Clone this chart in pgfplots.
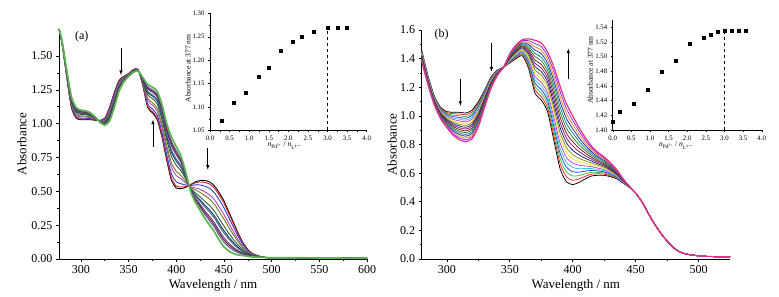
\documentclass[border=0pt]{standalone}
\usepackage{pgfplots}
\pgfplotsset{compat=1.18}
\usepackage{pgfplotstable}
\usepackage{fontspec}
\setmainfont{Liberation Serif}

% panel (a): c0 = initial (black) ... c11 = final (green)
\pgfplotstableread{
x c0 c1 c2 c3 c4 c5 c6 c7 c8 c9 c10 c11
277 1.70 1.70 1.70 1.70 1.70 1.70 1.70 1.70 1.70 1.70 1.70 1.70
280 1.60 1.601 1.603 1.606 1.608 1.611 1.613 1.614 1.616 1.617 1.618 1.62
285 1.35 1.353 1.358 1.365 1.37 1.378 1.383 1.385 1.39 1.393 1.395 1.40
290 1.12 1.124 1.132 1.144 1.152 1.164 1.172 1.176 1.184 1.188 1.192 1.20
295 1.04 1.044 1.052 1.064 1.072 1.084 1.092 1.096 1.104 1.108 1.112 1.12
300 1.03 1.034 1.041 1.051 1.058 1.069 1.076 1.079 1.086 1.090 1.093 1.10
305 1.03 1.033 1.040 1.050 1.056 1.066 1.072 1.076 1.082 1.085 1.089 1.095
310 1.03 1.033 1.038 1.045 1.05 1.058 1.063 1.065 1.07 1.073 1.075 1.08
315 1.025 1.026 1.029 1.033 1.035 1.039 1.041 1.043 1.045 1.046 1.048 1.05
320 1.025 1.024 1.023 1.021 1.019 1.017 1.015 1.015 1.013 1.012 1.012 1.01
325 1.04 1.038 1.033 1.025 1.02 1.013 1.008 1.005 1.00 0.998 0.995 0.99
330 1.12 1.115 1.105 1.09 1.08 1.065 1.055 1.05 1.04 1.035 1.03 1.02
335 1.23 1.225 1.214 1.197 1.186 1.170 1.159 1.153 1.142 1.137 1.131 1.12
340 1.32 1.316 1.308 1.296 1.288 1.276 1.268 1.264 1.256 1.252 1.248 1.24
345 1.35 1.348 1.344 1.338 1.334 1.328 1.324 1.322 1.318 1.316 1.314 1.31
350 1.37 1.369 1.367 1.364 1.362 1.359 1.357 1.356 1.354 1.353 1.352 1.35
355 1.40 1.399 1.397 1.394 1.392 1.389 1.387 1.386 1.384 1.383 1.382 1.38
360 1.40 1.40 1.399 1.397 1.396 1.395 1.394 1.393 1.392 1.392 1.391 1.39
365 1.28 1.283 1.289 1.298 1.304 1.313 1.319 1.322 1.328 1.331 1.334 1.34
370 1.12 1.129 1.146 1.171 1.188 1.214 1.231 1.239 1.256 1.265 1.273 1.29
375 1.08 1.090 1.109 1.137 1.156 1.185 1.204 1.213 1.232 1.242 1.251 1.27
380 1.03 1.041 1.062 1.093 1.114 1.146 1.167 1.177 1.198 1.209 1.219 1.24
385 0.90 0.912 0.936 0.972 0.996 1.032 1.056 1.068 1.092 1.104 1.116 1.14
390 0.73 0.744 0.771 0.811 0.838 0.879 0.906 0.919 0.946 0.960 0.973 1.00
395 0.58 0.596 0.628 0.676 0.708 0.756 0.788 0.804 0.836 0.852 0.868 0.90
400 0.525 0.540 0.571 0.617 0.647 0.693 0.723 0.739 0.769 0.784 0.800 0.83
405 0.52 0.532 0.556 0.592 0.616 0.652 0.676 0.688 0.712 0.724 0.736 0.76
410 0.53 0.536 0.547 0.563 0.574 0.591 0.602 0.607 0.618 0.624 0.629 0.64
415 0.55 0.548 0.543 0.535 0.53 0.523 0.518 0.515 0.51 0.508 0.505 0.50
420 0.57 0.563 0.548 0.525 0.51 0.488 0.473 0.465 0.45 0.443 0.435 0.42
425 0.58 0.569 0.547 0.514 0.492 0.459 0.437 0.426 0.404 0.393 0.382 0.36
430 0.58 0.566 0.538 0.496 0.468 0.426 0.398 0.384 0.356 0.342 0.328 0.30
435 0.57 0.554 0.522 0.474 0.442 0.394 0.362 0.346 0.314 0.298 0.282 0.25
440 0.54 0.523 0.489 0.438 0.404 0.353 0.319 0.302 0.268 0.251 0.234 0.20
445 0.49 0.473 0.438 0.385 0.35 0.298 0.263 0.245 0.21 0.193 0.175 0.14
450 0.43 0.413 0.379 0.328 0.294 0.243 0.209 0.192 0.158 0.141 0.124 0.09
455 0.35 0.336 0.307 0.263 0.234 0.191 0.162 0.147 0.118 0.104 0.089 0.06
460 0.27 0.259 0.236 0.201 0.178 0.144 0.121 0.109 0.086 0.075 0.063 0.04
465 0.19 0.182 0.166 0.142 0.126 0.102 0.086 0.078 0.062 0.054 0.046 0.03
470 0.12 0.115 0.106 0.092 0.082 0.068 0.058 0.054 0.044 0.039 0.035 0.025
475 0.07 0.068 0.063 0.055 0.05 0.043 0.038 0.035 0.03 0.028 0.025 0.02
480 0.04 0.039 0.036 0.033 0.03 0.026 0.024 0.023 0.02 0.019 0.018 0.015
490 0.015 0.015 0.015 0.014 0.014 0.013 0.013 0.013 0.013 0.012 0.012 0.012
500 0.01 0.01 0.01 0.01 0.01 0.01 0.01 0.01 0.01 0.01 0.01 0.01
550 0.008 0.008 0.008 0.008 0.008 0.008 0.008 0.008 0.008 0.008 0.008 0.008
600 0.005 0.005 0.005 0.005 0.005 0.005 0.005 0.005 0.005 0.005 0.005 0.005
}\specA

% panel (b): c0 = initial (black) ... c16 = final (pink)
\pgfplotstableread{
x c0 c1 c2 c3 c4 c5 c6 c7 c8 c9 c10 c11 c12 c13 c14 c15 c16
280 1.46 1.455 1.45 1.445 1.44 1.435 1.43 1.425 1.42 1.415 1.41 1.405 1.40 1.395 1.39 1.385 1.38
285 1.28 1.276 1.272 1.268 1.264 1.26 1.256 1.252 1.248 1.244 1.24 1.236 1.232 1.228 1.224 1.22 1.216
290 1.14 1.136 1.132 1.128 1.124 1.12 1.116 1.112 1.108 1.104 1.10 1.096 1.092 1.088 1.084 1.08 1.076
295 1.06 1.055 1.05 1.045 1.04 1.035 1.03 1.025 1.02 1.015 1.01 1.005 1.00 0.995 0.99 0.985 0.98
300 1.03 1.023 1.016 1.009 1.002 0.995 0.988 0.981 0.974 0.967 0.96 0.953 0.946 0.939 0.932 0.925 0.918
305 1.025 1.015 1.005 0.995 0.985 0.975 0.965 0.955 0.945 0.935 0.925 0.915 0.905 0.895 0.885 0.875 0.865
310 1.025 1.013 1.001 0.989 0.977 0.965 0.953 0.941 0.929 0.917 0.905 0.893 0.881 0.869 0.857 0.845 0.833
315 1.02 1.008 0.995 0.983 0.97 0.958 0.945 0.933 0.92 0.908 0.895 0.883 0.87 0.858 0.845 0.833 0.82
320 1.04 1.028 1.015 1.003 0.99 0.978 0.965 0.953 0.94 0.928 0.915 0.903 0.89 0.878 0.865 0.853 0.84
325 1.10 1.089 1.078 1.067 1.056 1.045 1.034 1.023 1.012 1.001 0.99 0.979 0.968 0.957 0.946 0.935 0.924
330 1.18 1.173 1.165 1.158 1.15 1.143 1.135 1.128 1.12 1.113 1.105 1.098 1.09 1.083 1.075 1.068 1.06
335 1.27 1.265 1.26 1.255 1.25 1.245 1.24 1.235 1.23 1.225 1.22 1.215 1.21 1.205 1.20 1.195 1.19
340 1.32 1.318 1.315 1.313 1.31 1.308 1.305 1.303 1.30 1.298 1.295 1.293 1.29 1.288 1.285 1.283 1.28
345 1.34 1.34 1.34 1.34 1.34 1.34 1.34 1.34 1.34 1.34 1.34 1.34 1.34 1.34 1.34 1.34 1.34
350 1.37 1.374 1.378 1.382 1.386 1.39 1.394 1.398 1.402 1.406 1.41 1.414 1.418 1.422 1.426 1.43 1.434
355 1.40 1.406 1.412 1.418 1.424 1.43 1.436 1.442 1.448 1.454 1.46 1.466 1.472 1.478 1.484 1.49 1.496
360 1.42 1.427 1.434 1.441 1.448 1.455 1.462 1.469 1.476 1.483 1.49 1.497 1.504 1.511 1.518 1.525 1.532
365 1.33 1.343 1.356 1.369 1.382 1.395 1.408 1.421 1.434 1.447 1.46 1.473 1.486 1.499 1.512 1.525 1.538
370 1.16 1.183 1.206 1.229 1.252 1.275 1.298 1.321 1.344 1.367 1.39 1.413 1.436 1.459 1.482 1.505 1.528
375 1.11 1.135 1.16 1.185 1.21 1.235 1.26 1.285 1.31 1.335 1.36 1.385 1.41 1.435 1.46 1.485 1.51
380 1.03 1.056 1.082 1.108 1.134 1.16 1.186 1.212 1.238 1.264 1.29 1.316 1.342 1.368 1.394 1.42 1.446
385 0.83 0.862 0.894 0.926 0.958 0.99 1.022 1.054 1.086 1.118 1.15 1.182 1.214 1.246 1.278 1.31 1.342
390 0.63 0.666 0.702 0.738 0.774 0.81 0.846 0.882 0.918 0.954 0.99 1.026 1.062 1.098 1.134 1.17 1.206
395 0.54 0.574 0.608 0.642 0.676 0.71 0.744 0.778 0.812 0.846 0.88 0.914 0.948 0.982 1.016 1.05 1.084
400 0.52 0.55 0.58 0.61 0.64 0.67 0.70 0.73 0.76 0.79 0.82 0.85 0.88 0.91 0.94 0.97 1.00
405 0.535 0.559 0.583 0.607 0.631 0.655 0.679 0.703 0.727 0.751 0.775 0.799 0.823 0.847 0.871 0.895 0.919
410 0.56 0.578 0.596 0.614 0.632 0.65 0.668 0.686 0.704 0.722 0.74 0.758 0.776 0.794 0.812 0.83 0.848
415 0.58 0.593 0.606 0.619 0.632 0.645 0.658 0.671 0.684 0.697 0.71 0.723 0.736 0.749 0.762 0.775 0.788
420 0.585 0.595 0.605 0.615 0.625 0.635 0.645 0.655 0.665 0.675 0.685 0.695 0.705 0.715 0.725 0.735 0.745
425 0.585 0.593 0.601 0.609 0.617 0.625 0.633 0.641 0.649 0.657 0.665 0.673 0.681 0.689 0.697 0.705 0.713
430 0.575 0.581 0.587 0.593 0.599 0.605 0.611 0.617 0.623 0.629 0.635 0.641 0.647 0.653 0.659 0.665 0.671
435 0.56 0.564 0.568 0.572 0.576 0.58 0.584 0.588 0.592 0.596 0.60 0.604 0.608 0.612 0.616 0.62 0.624
440 0.53 0.532 0.534 0.536 0.538 0.54 0.542 0.544 0.546 0.548 0.55 0.552 0.554 0.556 0.558 0.56 0.562
445 0.50 0.501 0.501 0.502 0.502 0.503 0.503 0.504 0.504 0.505 0.505 0.506 0.506 0.507 0.507 0.508 0.508
450 0.46 0.46 0.46 0.46 0.46 0.46 0.46 0.46 0.46 0.46 0.46 0.46 0.46 0.46 0.46 0.46 0.46
455 0.40 0.40 0.40 0.40 0.40 0.40 0.40 0.40 0.40 0.40 0.40 0.40 0.40 0.40 0.40 0.40 0.40
460 0.32 0.32 0.32 0.32 0.32 0.32 0.32 0.32 0.32 0.32 0.32 0.32 0.32 0.32 0.32 0.32 0.32
465 0.245 0.245 0.245 0.245 0.245 0.245 0.245 0.245 0.245 0.245 0.245 0.245 0.245 0.245 0.245 0.245 0.245
470 0.18 0.18 0.18 0.18 0.18 0.18 0.18 0.18 0.18 0.18 0.18 0.18 0.18 0.18 0.18 0.18 0.18
475 0.125 0.125 0.125 0.125 0.125 0.125 0.125 0.125 0.125 0.125 0.125 0.125 0.125 0.125 0.125 0.125 0.125
480 0.08 0.08 0.08 0.08 0.08 0.08 0.08 0.08 0.08 0.08 0.08 0.08 0.08 0.08 0.08 0.08 0.08
485 0.05 0.05 0.05 0.05 0.05 0.05 0.05 0.05 0.05 0.05 0.05 0.05 0.05 0.05 0.05 0.05 0.05
490 0.035 0.035 0.035 0.035 0.035 0.035 0.035 0.035 0.035 0.035 0.035 0.035 0.035 0.035 0.035 0.035 0.035
500 0.022 0.022 0.022 0.022 0.022 0.022 0.022 0.022 0.022 0.022 0.022 0.022 0.022 0.022 0.022 0.022 0.022
510 0.017 0.017 0.017 0.017 0.017 0.017 0.017 0.017 0.017 0.017 0.017 0.017 0.017 0.017 0.017 0.017 0.017
525 0.015 0.015 0.015 0.015 0.015 0.015 0.015 0.015 0.015 0.015 0.015 0.015 0.015 0.015 0.015 0.015 0.015
}\specB

\pgfplotstableread{
r A
0.3 1.07
0.6 1.11
0.9 1.13
1.25 1.165
1.5 1.185
1.8 1.22
2.1 1.24
2.35 1.25
2.65 1.26
3.0 1.27
3.25 1.27
3.5 1.27
}\insetA

\pgfplotstableread{
r A
0.0 1.411
0.18 1.425
0.56 1.436
0.94 1.455
1.31 1.480
1.69 1.495
2.06 1.518
2.44 1.526
2.62 1.530
2.81 1.534
3.0 1.536
3.19 1.536
3.38 1.536
3.56 1.536
}\insetB

% colours, panel (a)
\definecolor{a0}{RGB}{0,0,0}
\definecolor{a1}{RGB}{225,30,30}
\definecolor{a2}{RGB}{40,70,200}
\definecolor{a3}{RGB}{180,70,190}
\definecolor{a4}{RGB}{120,120,30}
\definecolor{a5}{RGB}{40,100,50}
\definecolor{a6}{RGB}{40,40,130}
\definecolor{a7}{RGB}{40,110,100}
\definecolor{a8}{RGB}{100,50,150}
\definecolor{a9}{RGB}{120,20,30}
\definecolor{a10}{RGB}{80,80,160}
\definecolor{a11}{RGB}{90,180,80}
% colours, panel (b) (Origin default sequence)
\definecolor{b0}{RGB}{0,0,0}
\definecolor{b1}{RGB}{235,30,30}
\definecolor{b2}{RGB}{60,190,60}
\definecolor{b3}{RGB}{40,60,225}
\definecolor{b4}{RGB}{40,200,225}
\definecolor{b5}{RGB}{200,60,210}
\definecolor{b6}{RGB}{235,230,40}
\definecolor{b7}{RGB}{140,135,20}
\definecolor{b8}{RGB}{20,30,130}
\definecolor{b9}{RGB}{130,20,130}
\definecolor{b10}{RGB}{130,20,20}
\definecolor{b11}{RGB}{30,130,40}
\definecolor{b12}{RGB}{20,130,130}
\definecolor{b13}{RGB}{30,40,170}
\definecolor{b14}{RGB}{250,130,20}
\definecolor{b15}{RGB}{130,40,240}
\definecolor{b16}{RGB}{235,45,140}

\pgfplotsset{
  orig/.style={
    scale only axis,
    axis x line*=bottom, axis y line*=left,
    axis line style={-, line width=0.8pt},
    tick align=outside,
    tick style={black, line width=0.6pt},
    major tick length=3pt, minor tick length=1.8pt,
    /pgf/number format/assume math mode=true,
    tick label style={font=\fontsize{12}{13}\selectfont},
    label style={font=\fontsize{13}{14}\selectfont},
    clip=false,
  },
  insetst/.style={
    scale only axis,
    axis x line*=bottom, axis y line*=left,
    axis line style={-, line width=0.6pt},
    tick align=outside,
    tick style={black, line width=0.4pt},
    major tick length=2pt, minor tick length=1.2pt,
    /pgf/number format/assume math mode=true,
    tick label style={font=\fontsize{6.8}{7}\selectfont},
    label style={font=\fontsize{7.5}{8}\selectfont},
    xtick={0,0.5,...,4}, minor x tick num=1,
    xticklabel style={/pgf/number format/.cd, fixed, fixed zerofill, precision=1},
    yticklabel style={/pgf/number format/.cd, fixed, fixed zerofill, precision=2},
    xmin=0, xmax=4,
  },
}

\begin{document}
\begin{tikzpicture}
\useasboundingbox (0,0) rectangle (779pt,297pt);

% ---------- panel (a) ----------
\begin{axis}[orig,
  at={(59pt,38pt)}, anchor=south west,
  width=308pt, height=230pt,
  xmin=277, xmax=600, ymin=0, ymax=1.70,
  xtick={300,350,...,600}, minor x tick num=1,
  ytick={0,0.25,...,1.5}, minor y tick num=1,
  yticklabel style={/pgf/number format/.cd, fixed, fixed zerofill, precision=2},
  xlabel={Wavelength / nm}, ylabel={Absorbance},
  xlabel style={at={(axis description cs:0.5,-0.115)}, anchor=center},
  ylabel style={at={(axis description cs:-0.12,0.5)}, anchor=center},
]
\pgfplotsinvokeforeach{0,...,10}{
  \addplot[color=a#1, line width=0.9pt, smooth, tension=0.4] table[x=x,y=c#1]{\specA};
}
\addplot[color=a11, line width=1.7pt, smooth, tension=0.4] table[x=x,y=c11]{\specA};
\node[font=\fontsize{12}{13}\selectfont] at (axis description cs:0.074,0.967) {(a)};
\draw[-latex, line width=0.6pt] (axis cs:342,1.56) -- (axis cs:342,1.36);
\draw[-latex, line width=0.6pt] (axis cs:375.5,0.83) -- (axis cs:375.5,1.03);
\draw[-latex, line width=0.6pt] (axis cs:433,0.82) -- (axis cs:433,0.66);
\end{axis}

% ---------- inset (a) ----------
\begin{axis}[insetst,
  at={(210pt,166.5pt)}, anchor=south west,
  width=156.7pt, height=117.2pt,
  ymin=1.05, ymax=1.30,
  ytick={1.05,1.10,...,1.30}, minor y tick num=1,
  xlabel={\textit{n}\textsubscript{Pd\textsuperscript{2+}} / \textit{n}\textsubscript{L\textsuperscript{4$-$}}},
  ylabel={Absorbance at 377 nm},
  xlabel style={at={(axis description cs:0.48,-0.13)}, anchor=center},
  ylabel style={at={(axis description cs:-0.14,0.53)}, anchor=center},
]
\addplot[only marks, mark=square*, mark size=1.5pt, black] table[x=r,y=A]{\insetA};
\addplot[black, dashed, line width=0.6pt] coordinates {(3,1.05) (3,1.27)};
\end{axis}

% ---------- panel (b) ----------
\begin{axis}[orig,
  at={(421.7pt,38pt)}, anchor=south west,
  width=308.3pt, height=229pt,
  xmin=280, xmax=525, ymin=0, ymax=1.6,
  xtick={300,350,...,500}, minor x tick num=1,
  ytick={0,0.2,...,1.6}, minor y tick num=1,
  yticklabel style={/pgf/number format/.cd, fixed, fixed zerofill, precision=1},
  xlabel={Wavelength / nm}, ylabel={Absorbance},
  xlabel style={at={(axis description cs:0.5,-0.115)}, anchor=center},
  ylabel style={at={(axis description cs:-0.096,0.5)}, anchor=center},
]
\pgfplotsinvokeforeach{0,...,15}{
  \addplot[color=b#1, line width=0.75pt, smooth, tension=0.4] table[x=x,y=c#1]{\specB};
}
\addplot[color=b16, line width=1.2pt, smooth, tension=0.4] table[x=x,y=c16]{\specB};
\node[font=\fontsize{12}{13}\selectfont] at (axis description cs:0.065,0.978) {(b)};
\draw[-latex, line width=0.6pt] (axis cs:310.7,1.26) -- (axis cs:310.7,1.07);
\draw[-latex, line width=0.6pt] (axis cs:335.4,1.51) -- (axis cs:335.4,1.31);
\draw[-latex, line width=0.6pt] (axis cs:396.5,1.256) -- (axis cs:396.5,1.47);
\end{axis}

% ---------- inset (b) ----------
\begin{axis}[insetst,
  at={(612.7pt,167pt)}, anchor=south west,
  width=149pt, height=110pt,
  ymin=1.40, ymax=1.55,
  ytick={1.40,1.42,...,1.541}, minor y tick num=1,
  xlabel={\textit{n}\textsubscript{Pd\textsuperscript{2+}} / \textit{n}\textsubscript{L\textsuperscript{4$-$}}},
  ylabel={Absorbance at 377 nm},
  xlabel style={at={(axis description cs:0.43,-0.14)}, anchor=center},
  ylabel style={at={(axis description cs:-0.15,0.545)}, anchor=center},
]
\addplot[only marks, mark=square*, mark size=1.5pt, black] table[x=r,y=A]{\insetB};
\addplot[black, dashed, line width=0.6pt] coordinates {(3,1.40) (3,1.536)};
\end{axis}
\end{tikzpicture}
\end{document}
